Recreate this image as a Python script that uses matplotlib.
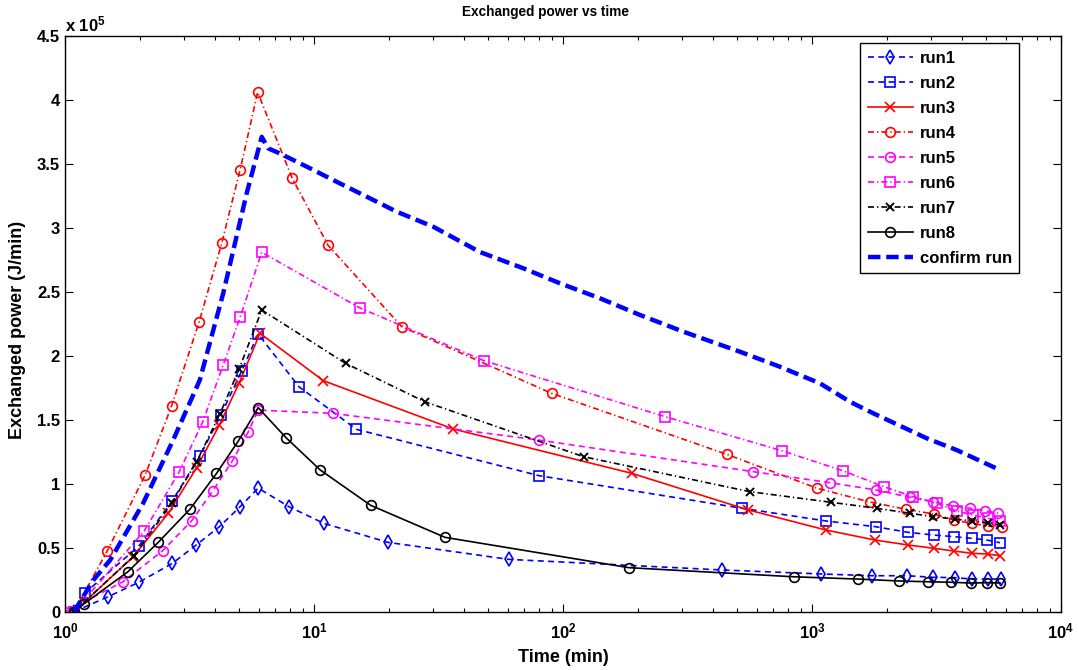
import math
import matplotlib
matplotlib.use("Agg")
import matplotlib.pyplot as plt
from matplotlib.ticker import FixedLocator, LogLocator, FuncFormatter, NullFormatter

plt.rcParams['font.family'] = ['Liberation Sans', 'DejaVu Sans']
plt.rcParams['font.weight'] = 'bold'
plt.rcParams['mathtext.fontset'] = 'custom'
plt.rcParams['mathtext.rm'] = 'Liberation Sans:bold'
plt.rcParams['mathtext.bf'] = 'Liberation Sans:bold'
plt.rcParams['mathtext.default'] = 'bf'

# time (min) and exchanged power (x 1e5 J/min)
run1_t = [1.087, 1.49, 1.98, 2.70, 3.36, 4.17, 5.05, 5.97, 7.94, 10.97, 19.8, 60.5, 436, 1087, 1741, 2409, 3063, 3753, 4393, 5093, 5741]
run1_p = [0, 0.117, 0.23, 0.378, 0.52, 0.664, 0.82, 0.966, 0.82, 0.69, 0.542, 0.409, 0.326, 0.295, 0.281, 0.281, 0.269, 0.266, 0.255, 0.255, 0.255]

run2_t = [1.087, 1.20, 1.98, 2.70, 3.48, 4.23, 5.12, 5.97, 8.7, 14.8, 80.3, 525, 1138, 1802, 2436, 3090, 3727, 4400, 5042, 5689]
run2_p = [0, 0.144, 0.513, 0.867, 1.216, 1.537, 1.88, 2.17, 1.758, 1.425, 1.0625, 0.808, 0.709, 0.664, 0.62, 0.599, 0.586, 0.573, 0.56, 0.539]

run3_t = [1.087, 1.88, 2.60, 3.38, 4.17, 5.0, 6.07, 10.9, 36.3, 189, 555, 1138, 1790, 2436, 3097, 3718, 4400, 5070, 5689]
run3_p = [0, 0.43, 0.769, 1.125, 1.459, 1.784, 2.175, 1.805, 1.427, 1.081, 0.795, 0.638, 0.56, 0.521, 0.495, 0.474, 0.456, 0.451, 0.4375]

run4_t = [1.087, 1.48, 2.10, 2.68, 3.46, 4.26, 5.05, 5.94, 8.18, 11.4, 22.5, 90.1, 454, 1050, 1710, 2386, 3090, 3720, 4378, 5102, 5777]
run4_p = [0, 0.477, 1.068, 1.607, 2.266, 2.878, 3.451, 4.058, 3.386, 2.862, 2.227, 1.706, 1.23, 0.964, 0.857, 0.8, 0.763, 0.716, 0.69, 0.67, 0.659]

run5_t = [1.0, 1.71, 2.47, 3.23, 3.92, 4.70, 5.45, 5.97, 11.9, 80.1, 581, 1181, 1807, 2476, 3070, 3690, 4311, 4952, 5600]
run5_p = [0, 0.234, 0.477, 0.711, 0.943, 1.177, 1.406, 1.575, 1.55, 1.341, 1.094, 1.008, 0.951, 0.894, 0.86, 0.826, 0.808, 0.79, 0.77]

run6_t = [1.087, 2.08, 2.87, 3.57, 4.32, 5.05, 6.17, 15.3, 48.3, 258, 756, 1336, 1944, 2551, 3170, 3811, 4446, 5078, 5689]
run6_p = [0, 0.63, 1.089, 1.48, 1.927, 2.3, 2.808, 2.373, 1.96, 1.523, 1.258, 1.10, 0.977, 0.898, 0.847, 0.787, 0.755, 0.73, 0.711]

run7_t = [1.087, 1.89, 2.68, 3.38, 4.19, 5.0, 6.17, 13.4, 27.9, 121, 564, 1192, 1820, 2476, 3070, 3753, 4378, 5078, 5689]
run7_p = [0, 0.435, 0.847, 1.172, 1.545, 1.894, 2.357, 1.94, 1.64, 1.211, 0.9375, 0.855, 0.808, 0.769, 0.742, 0.724, 0.709, 0.695, 0.677]

run8_t = [1.087, 1.19, 1.79, 2.37, 3.18, 4.06, 4.97, 5.97, 7.72, 10.6, 16.9, 33.6, 184, 844, 1535, 2235, 2931, 3614, 4339, 5057, 5704]
run8_p = [0, 0.06, 0.3125, 0.542, 0.802, 1.08, 1.334, 1.594, 1.36, 1.107, 0.831, 0.581, 0.344, 0.273, 0.255, 0.24, 0.234, 0.23, 0.224, 0.227, 0.224]

confirm_t = [1.087, 1.30, 1.52, 2.06, 2.72, 3.48, 4.32, 5.37, 6.17, 6.55, 7.30, 9.35, 12.3, 16.3, 21.5, 30.1, 46.4,
             69.3, 97.2, 141, 204, 304, 514, 743, 1077, 1422, 1763, 2889, 3811, 5689]
confirm_p = [0, 0.247, 0.404, 0.847, 1.341, 1.81, 2.487, 3.27, 3.71, 3.62, 3.58, 3.477, 3.36, 3.242, 3.125, 3.008, 2.81,
             2.683, 2.566, 2.448, 2.318, 2.188, 2.031, 1.914, 1.784, 1.64, 1.55, 1.355, 1.263, 1.107]

ytick_vals = [0, 0.5, 1, 1.5, 2, 2.5, 3, 3.5, 4, 4.5]
ytick_labels = ['0', '0.5', '1', '1.5', '2', '2.5', '3', '3.5', '4', '4.5']

fig = plt.figure(figsize=(10.79, 6.70), dpi=100)
ax = fig.add_axes([0.0602, 0.0870, 0.9231, 0.8597])

dash = (3.6, 2.6)
dashdot = (3.6, 1.8, 0.8, 1.8)
ms = 7
lw = 1.2

ax.plot(run1_t, run1_p, color='#0000ff', lw=lw, dashes=dash, marker='d', ms=ms, mfc='none', mew=1.2, label='run1')
ax.plot(run2_t, run2_p, color='#0000ff', lw=lw, dashes=dash, marker='s', ms=ms, mfc='none', mew=1.2, label='run2')
ax.plot(run3_t, run3_p, color='#ff0000', lw=lw, ls='-', marker='x', ms=ms, mew=1.2, label='run3')
ax.plot(run4_t, run4_p, color='#ff0000', lw=lw, dashes=dashdot, marker='o', ms=ms, mfc='none', mew=1.2, label='run4')
ax.plot(run5_t, run5_p, color='#ff00ff', lw=lw, dashes=dash, marker='o', ms=ms, mfc='none', mew=1.2, label='run5')
ax.plot(run6_t, run6_p, color='#ff00ff', lw=lw, dashes=dashdot, marker='s', ms=ms, mfc='none', mew=1.2, label='run6')
ax.plot(run7_t, run7_p, color='black', lw=lw, dashes=dashdot, marker='x', ms=6, mew=1.4, label='run7')
ax.plot(run8_t, run8_p, color='black', lw=lw, ls='-', marker='o', ms=ms, mfc='none', mew=1.2, label='run8')
ax.plot(confirm_t, confirm_p, color='#0000ff', lw=3.2, dashes=(2.8, 1.3), label='confirm run')

ax.set_xscale('log')
ax.set_xlim(1, 1e4)
ax.set_ylim(0, 4.5)
ax.yaxis.set_major_locator(FixedLocator(ytick_vals))
ax.set_yticklabels(ytick_labels)
ax.xaxis.set_major_locator(LogLocator(base=10, numticks=10))
ax.xaxis.set_minor_locator(LogLocator(base=10, subs=range(2, 10), numticks=10))
ax.xaxis.set_minor_formatter(NullFormatter())
ax.xaxis.set_major_formatter(FuncFormatter(lambda v, p: r'$\mathbf{10^{%d}}$' % round(math.log10(v))))

ax.tick_params(which='both', direction='in', top=True, right=True, labelsize=12)
ax.tick_params(which='major', length=6, width=0.8)
ax.tick_params(which='minor', length=3, width=0.8)
ax.tick_params(axis='x', pad=7)
for s in ax.spines.values():
    s.set_linewidth(1.0)

fig.text(545 / 1079, 1 - 12 / 670, 'Exchanged power vs time', ha='center', va='center', fontsize=9.8, fontweight='bold')
fig.text(563 / 1079, 1 - 657 / 670, 'Time (min)', ha='center', va='center', fontsize=13, fontweight='bold')
fig.text(18 / 1079, 1 - 330 / 670, 'Exchanged power (J/min)', ha='center', va='center', rotation=90, fontsize=13, fontweight='bold')
fig.text(65 / 1079, 1 - 24 / 670, r'x 10$^{5}$', ha='left', va='center', fontsize=12, fontweight='bold')

leg = ax.legend(loc='upper right', bbox_to_anchor=(0.958, 0.987), fontsize=12, handlelength=2.7,
                fancybox=False, framealpha=1, edgecolor='black', borderpad=0.45, labelspacing=0.6,
                handletextpad=0.4, borderaxespad=0)
leg.get_frame().set_linewidth(1.0)

fig.savefig('out.png', dpi=100)
